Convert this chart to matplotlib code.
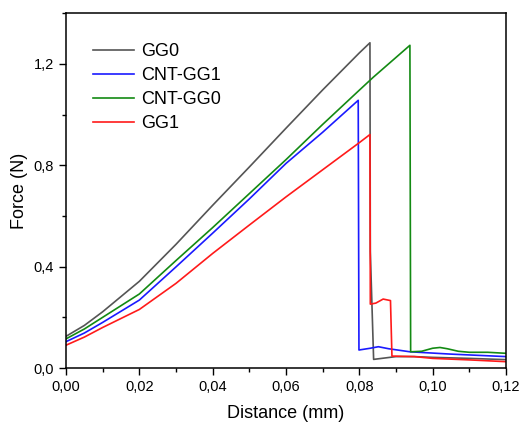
import matplotlib
matplotlib.use("Agg")
import matplotlib.pyplot as plt
from matplotlib.ticker import FuncFormatter, MultipleLocator

plt.rcParams["font.family"] = ["Liberation Sans", "DejaVu Sans"]

# distance (mm) and force (N)
gg0_x = [0.0, 0.005, 0.01, 0.02, 0.03, 0.04, 0.05, 0.06, 0.07, 0.08, 0.0829,
         0.0830, 0.0839, 0.090, 0.095, 0.100, 0.110, 0.120]
gg0_y = [0.125, 0.168, 0.222, 0.342, 0.488, 0.642, 0.793, 0.946, 1.097, 1.243, 1.283,
         0.46, 0.034, 0.045, 0.045, 0.042, 0.038, 0.033]

cnt_gg1_x = [0.0, 0.005, 0.01, 0.02, 0.03, 0.04, 0.05, 0.06, 0.07, 0.0797,
             0.0799, 0.083, 0.0852, 0.088, 0.0938, 0.1047, 0.120]
cnt_gg1_y = [0.104, 0.138, 0.180, 0.268, 0.399, 0.532, 0.667, 0.807, 0.930, 1.056,
             0.071, 0.078, 0.084, 0.076, 0.064, 0.055, 0.045]

cnt_gg0_x = [0.0, 0.005, 0.01, 0.02, 0.03, 0.04, 0.05, 0.06, 0.07, 0.08, 0.0838, 0.0938,
             0.0940, 0.097, 0.100, 0.102, 0.104, 0.107, 0.110, 0.115, 0.120]
cnt_gg0_y = [0.115, 0.154, 0.200, 0.292, 0.424, 0.554, 0.688, 0.822, 0.961, 1.096, 1.147, 1.273,
             0.064, 0.066, 0.078, 0.081, 0.076, 0.066, 0.062, 0.062, 0.058]

gg1_x = [0.0, 0.005, 0.01, 0.02, 0.03, 0.04, 0.05, 0.06, 0.07, 0.08, 0.0829,
         0.0830, 0.0845, 0.0865, 0.0885, 0.0889, 0.095, 0.100, 0.110, 0.120]
gg1_y = [0.090, 0.122, 0.160, 0.231, 0.334, 0.452, 0.564, 0.675, 0.782, 0.889, 0.921,
         0.252, 0.256, 0.272, 0.266, 0.047, 0.045, 0.038, 0.032, 0.025]

SERIES = [
    ("GG0", gg0_x, gg0_y, "#555555"),
    ("CNT-GG1", cnt_gg1_x, cnt_gg1_y, "#1a1aff"),
    ("CNT-GG0", cnt_gg0_x, cnt_gg0_y, "#138a13"),
    ("GG1", gg1_x, gg1_y, "#ff1a1a"),
]


def comma(v, _pos, nd):
    return f"{v:.{nd}f}".replace(".", ",")


fig = plt.figure(figsize=(5.2, 4.23), dpi=100)
ax = fig.add_axes([0.127, 0.130, 0.846, 0.839])

for label, xs, ys, color in SERIES:
    ax.plot(xs, ys, color=color, lw=1.2, label=label)

ax.set_xlim(0, 0.12)
ax.set_ylim(0, 1.4)
ax.xaxis.set_major_locator(MultipleLocator(0.02))
ax.xaxis.set_minor_locator(MultipleLocator(0.01))
ax.yaxis.set_major_locator(MultipleLocator(0.4))
ax.yaxis.set_minor_locator(MultipleLocator(0.2))
ax.xaxis.set_major_formatter(FuncFormatter(lambda v, p: comma(v, p, 2)))
ax.yaxis.set_major_formatter(FuncFormatter(lambda v, p: comma(v, p, 1)))
ax.tick_params(which="major", direction="out", length=5, width=1, labelsize=10.5)
ax.tick_params(which="minor", direction="out", length=3, width=1)
for sp in ax.spines.values():
    sp.set_linewidth(1.1)

ax.set_xlabel("Distance (mm)", fontsize=13, labelpad=8)
ax.set_ylabel("Force (N)", fontsize=13, labelpad=4)

ax.legend(loc="upper left", bbox_to_anchor=(0.061, 0.915), frameon=False, fontsize=13,
          handlelength=2.3, handletextpad=0.35, labelspacing=0.38, borderaxespad=0, borderpad=0)

fig.savefig("out.png", dpi=100)
